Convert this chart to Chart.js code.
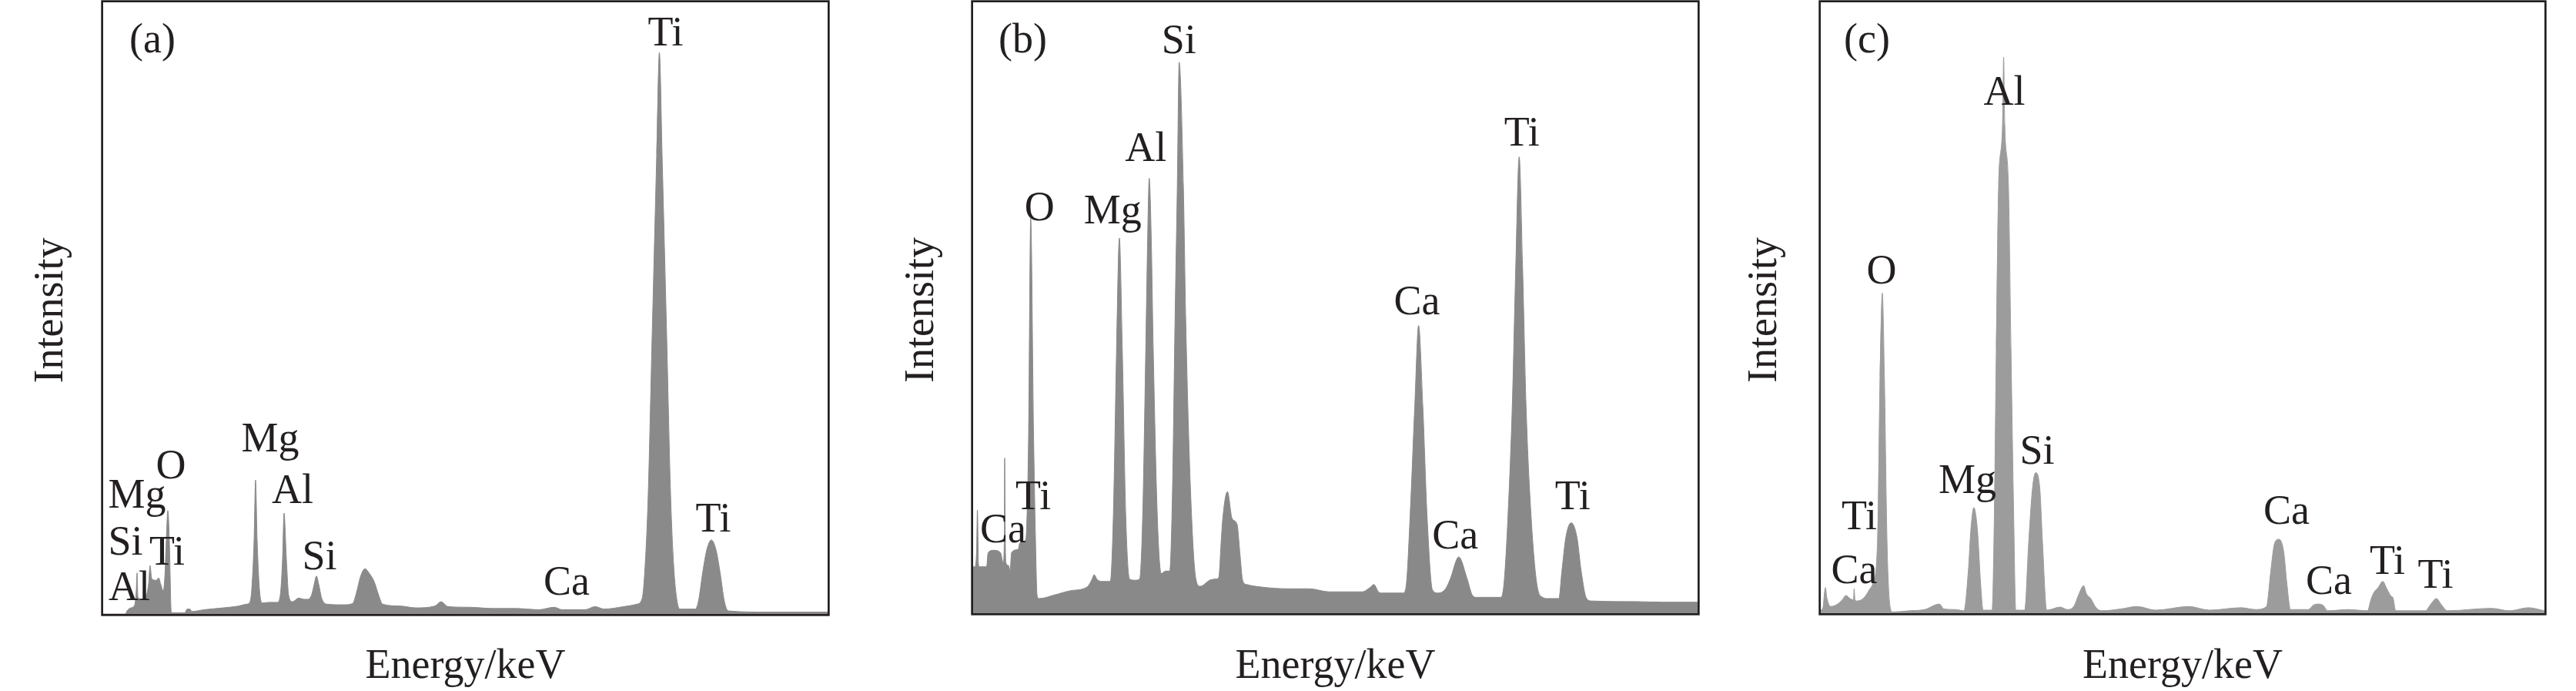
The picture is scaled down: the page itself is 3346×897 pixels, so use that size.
<!DOCTYPE html>
<html>
<head>
<meta charset="utf-8">
<script src="https://cdn.jsdelivr.net/npm/chart.js@4.4.1/dist/chart.umd.min.js"></script>
<style>
html,body{margin:0;padding:0;background:#fff;width:3346px;height:897px;overflow:hidden}
canvas{position:absolute;left:0;top:0}
</style>
</head>
<body>
<canvas id="chartA" width="3346" height="897"></canvas>
<canvas id="chartB" width="3346" height="897"></canvas>
<canvas id="chartC" width="3346" height="897"></canvas>
<script>
// ---------- Panel (a) spectrum ----------
const energyA = [0,0.182,0.194,0.226,0.257,0.270,0.276,0.282,0.288,0.320,0.351,0.370,0.382,0.395,0.433,0.451,0.470,0.489,0.502,0.514,0.527,0.539,0.546,0.552,0.558,0.665,0.683,0.708,0.721,0.821,0.978,1.104,1.166,1.191,1.210,1.229,1.241,1.254,1.273,1.298,1.354,1.417,1.442,1.461,1.473,1.492,1.511,1.542,1.593,1.636,1.668,1.699,1.718,1.737,1.756,1.781,1.825,1.950,2.031,2.063,2.094,2.132,2.169,2.207,2.245,2.276,2.420,2.546,2.702,2.752,2.809,2.984,3.173,3.361,3.549,3.674,3.737,3.925,4.006,4.081,4.238,4.345,4.389,4.414,4.439,4.470,4.508,4.530,4.552,4.590,4.621,4.646,4.671,4.696,4.822,4.847,4.885,4.916,4.953,4.991,5.022,5.060,5.091,5.430,5.900];
const intensityA = [0,0,0.5,1.0,1.5,4,6.7,3,2.6,2.4,3.0,5,7.9,5.8,5.5,5.9,4.8,3.8,6,12,16.9,12,6,1,0.2,0.2,0.8,0.8,0.4,0.7,1.0,1.3,1.6,1.8,4,12,21.9,12,4,1.8,1.9,1.9,3,9,16.5,9,3,2.0,2.6,2.4,2.4,3.2,4.8,6.2,4.8,2.5,1.6,1.5,1.7,3.5,6.0,7.4,6.6,5.3,3.0,1.6,1.3,1.0,1.3,2.0,1.2,1.1,0.9,0.9,0.7,1.1,0.7,0.7,1.2,0.8,1.2,1.6,2.5,8,19.6,44.8,75,91.8,75,44.8,19.6,8,2.5,0.8,0.8,2,7.1,10.5,12.1,10.5,7.1,2,0.5,0.3,0.3];
const peakTextA = ['Ti','Mg','O','Mg','Al','Si','Ti','Al','Si','Ca','Ti'];
const peakEnergyA = [4.58,1.361,0.552,0.276,1.542,0.182,0.520,0.213,1.762,3.774,4.969];
const peakLevelA = [93.0,26.6,22.2,17.4,18.1,9.7,8.0,2.3,7.3,3.1,13.5];

// ---------- Panel (b) spectrum ----------
const energyB = [0,0.013,0.028,0.035,0.044,0.050,0.110,0.122,0.167,0.223,0.245,0.254,0.257,0.262,0.267,0.289,0.301,0.313,0.368,0.380,0.424,0.436,0.452,0.469,0.492,0.508,0.521,0.537,0.665,0.797,0.929,0.967,0.985,1.011,1.061,1.117,1.142,1.168,1.191,1.215,1.243,1.274,1.318,1.356,1.381,1.406,1.422,1.434,1.450,1.467,1.500,1.532,1.569,1.601,1.624,1.644,1.663,1.678,1.712,1.732,1.770,1.814,1.848,1.939,1.983,2.002,2.021,2.034,2.071,2.109,2.150,2.172,2.196,2.228,2.341,2.567,2.737,2.900,3.170,3.232,3.264,3.301,3.327,3.502,3.527,3.559,3.597,3.628,3.662,3.697,3.741,3.785,3.848,3.886,3.955,4.024,4.067,4.099,4.300,4.325,4.356,4.391,4.419,4.447,4.475,4.503,4.544,4.595,4.639,4.682,4.770,4.795,4.827,4.871,4.918,4.952,4.996,5.040,5.398,5.624,5.900];
const intensityB = [7.6,7.6,10,16.9,8,7.6,7.6,9.9,10.3,9.9,8.3,12,25.4,12,8.3,7.8,6.9,9.9,10.5,11.5,11.9,14,29.5,64.6,29.5,12,2.9,2.4,3.0,3.7,4.3,5.5,6.3,5.5,5.2,5.2,15.9,43,61.4,43,15.9,5.6,5.4,5.6,15.9,43,62,71.2,62,43,15.9,6.5,6.9,6.9,20.4,47.5,70,90.2,70,47.5,20.4,5.6,4.4,5.5,5.6,6,12,15.7,19.9,15.5,14.5,10,5.3,4.7,4.3,4.0,4.0,3.5,3.5,4.2,4.7,3.5,3.3,3.3,4.5,15.9,34,47.1,34,15.9,3.8,3.3,4,5.6,9.2,5.6,2.9,2.6,2.6,5.2,15.9,34,56.5,74.7,56.5,34,15.9,4.3,2.6,2.4,2.4,6.9,12.4,14.8,12.4,6.9,2.4,2.0,1.9,1.8,1.8];
const peakTextB = ['Si','Al','O','Mg','Ti','Ca','Ca','Ca','Ti','Ti'];
const peakEnergyB = [1.676,1.406,0.540,1.136,0.490,0.245,3.615,3.926,4.883,4.469];
const peakLevelB = [91.7,74.0,64.3,63.8,17.0,11.6,48.9,10.6,17.0,76.6];

// ---------- Panel (c) spectrum ----------
const energyC = [0,0.019,0.031,0.038,0.050,0.082,0.138,0.176,0.205,0.239,0.267,0.272,0.279,0.295,0.351,0.395,0.429,0.463,0.483,0.502,0.519,0.540,0.565,0.584,0.722,0.847,0.967,1.004,1.098,1.167,1.203,1.224,1.248,1.277,1.304,1.324,1.397,1.415,1.431,1.450,1.482,1.491,1.500,1.530,1.551,1.573,1.590,1.607,1.663,1.695,1.726,1.752,1.786,1.808,1.842,1.953,2.009,2.066,2.100,2.144,2.165,2.201,2.245,2.291,2.448,2.580,2.730,3.000,3.170,3.427,3.546,3.628,3.640,3.669,3.701,3.736,3.774,3.801,3.830,3.976,4.015,4.049,4.095,4.133,4.300,4.458,4.485,4.507,4.544,4.582,4.615,4.645,4.667,4.687,4.929,4.974,5.019,5.063,5.109,5.467,5.618,5.769,5.900];
const intensityC = [0.5,1.0,3.5,4.2,2.5,1.1,1.5,2.2,2.9,2.4,2.2,4.0,2.2,2.0,2.5,3.8,5.2,11.9,38.5,52.4,38.5,11.9,1.1,0.2,0.4,0.6,1.5,0.7,0.6,0.4,6.9,13.7,17.3,13.7,4.7,0.5,0.5,15.9,43,70,80,91,80,70,43,15.9,0.5,0.5,0.5,11.5,20.4,23.0,20.4,11.5,0.5,1.0,0.6,1.2,2.9,4.5,3.2,2.4,0.9,0.4,0.7,1.1,0.5,1.1,0.5,0.9,0.6,1.0,1.5,6.9,11.5,12.1,10.1,4.7,0.6,0.6,1.3,1.5,1.3,0.4,0.6,0.4,2.2,3.3,4.2,5.2,4.0,2.9,2.4,0.4,0.4,1.5,2.4,1.3,0.4,0.8,0.4,0.9,0.4];
const peakTextC = ['Al','O','Si','Mg','Ti','Ca','Ca','Ca','Ti','Ti'];
const peakEnergyC = [1.497,0.496,1.764,1.196,0.314,0.273,3.797,4.143,4.620,5.012];
const peakLevelC = [83.2,54.0,24.5,19.7,13.7,4.9,14.6,3.2,6.4,4.2];

const panelTags = ['(a)','(b)','(c)'];
const xTitle = 'Energy/keV';
const yTitle = 'Intensity';

// ---------- drawing ----------
const INK = '#231f20';
const FONT = '54px "Liberation Serif", "Times New Roman", serif';

const panelPlugin = {
  id: 'panelDecor',
  afterDatasetsDraw(chart, args, o) {
    const {ctx, chartArea: a, scales: {x, y}} = chart;
    ctx.save();
    ctx.strokeStyle = INK;
    ctx.lineWidth = 2.7;
    ctx.strokeRect(a.left - 1.35, a.top - 1.35, a.right - a.left + 2.7, a.bottom - a.top + 2.7);
    ctx.fillStyle = INK;
    ctx.font = FONT;
    ctx.textAlign = 'center';
    ctx.textBaseline = 'alphabetic';
    o.texts.forEach((t, i) => {
      ctx.fillText(t, x.getPixelForValue(o.energies[i]), y.getPixelForValue(o.levels[i]));
    });
    ctx.textAlign = 'left';
    ctx.fillText(o.tag, a.left + o.tagDx, a.top + 65);
    ctx.textAlign = 'center';
    ctx.fillText(xTitle, (a.left + a.right) / 2, o.xTitleY);
    ctx.translate(a.left + o.yTitleDx, (a.top + a.bottom) / 2 + 3);
    ctx.rotate(-Math.PI / 2);
    ctx.fillText(yTitle, 0, 0);
    ctx.restore();
  }
};

function makeChart(id, energies, intensities, color, pad, decor) {
  const pts = energies.map((e, i) => ({x: e, y: intensities[i]}));
  return new Chart(document.getElementById(id), {
    type: 'line',
    data: {datasets: [{
      data: pts,
      fill: 'origin',
      backgroundColor: color,
      borderColor: color,
      borderWidth: 1,
      pointRadius: 0,
      cubicInterpolationMode: 'monotone'
    }]},
    options: {
      responsive: false,
      animation: false,
      devicePixelRatio: 1,
      layout: {padding: pad},
      events: [],
      plugins: {legend: {display: false}, tooltip: {enabled: false}, panelDecor: decor},
      scales: {
        x: {type: 'linear', min: 0, max: 5.9, display: false},
        y: {type: 'linear', min: 0, max: 100, display: false}
      }
    },
    plugins: [panelPlugin]
  });
}

function build() {
  makeChart('chartA', energyA, intensityA, '#8a8a8a',
    {left: 134, right: 2271, top: 3, bottom: 100},
    {texts: peakTextA, energies: peakEnergyA, levels: peakLevelA, tag: panelTags[0], tagDx: 34, xTitleY: 880, yTitleDx: -53});
  makeChart('chartB', energyB, intensityB, '#898989',
    {left: 1264, right: 1141, top: 3, bottom: 101},
    {texts: peakTextB, energies: peakEnergyB, levels: peakLevelB, tag: panelTags[1], tagDx: 33, xTitleY: 880, yTitleDx: -52});
  makeChart('chartC', energyC, intensityC, '#9c9c9c',
    {left: 2365, right: 41, top: 3, bottom: 101},
    {texts: peakTextC, energies: peakEnergyC, levels: peakLevelC, tag: panelTags[2], tagDx: 30, xTitleY: 880, yTitleDx: -58});
}

if (document.fonts && document.fonts.load) {
  document.fonts.load(FONT).then(build, build);
} else {
  build();
}
</script>
</body>
</html>
